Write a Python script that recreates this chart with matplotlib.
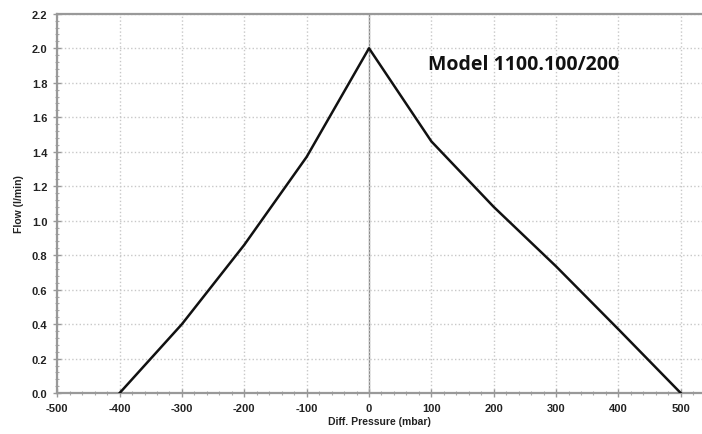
import numpy as np
import matplotlib.pyplot as plt
from matplotlib.ticker import MultipleLocator

plt.rcParams['axes.unicode_minus'] = False

# flow curve
pressure = [-400, -300, -200, -100, 0, 100, 200, 300, 400, 500]
flow = [0.0, 0.40, 0.86, 1.37, 2.0, 1.46, 1.08, 0.735, 0.37, 0.0]

xticks = [-500, -400, -300, -200, -100, 0, 100, 200, 300, 400, 500]
yticks = [0.0, 0.2, 0.4, 0.6, 0.8, 1.0, 1.2, 1.4, 1.6, 1.8, 2.0, 2.2]

fig = plt.figure(figsize=(7.02, 4.35), dpi=100)
ax = fig.add_axes([0.0815, 0.094, 0.9185, 0.872])

ax.set_xlim(-500, 534)
ax.set_ylim(0, 2.2)

ax.grid(True, which='major', color='#c8c8c8', linestyle=':', linewidth=1.0)
ax.axvline(0, color='#8a8a8a', linewidth=1.0, zorder=1)

ax.plot(pressure, flow, color='#111111', linewidth=1.8, zorder=3)

ax.set_xticks(xticks)
ax.set_yticks(yticks)
ax.set_xticklabels([str(v) for v in xticks])
ax.set_yticklabels(['%.1f' % v for v in yticks])
ax.xaxis.set_minor_locator(MultipleLocator(20))
ax.yaxis.set_minor_locator(MultipleLocator(0.04))

tick_font = dict(family='Liberation Sans', weight='bold', size=8)
for lab in ax.get_xticklabels() + ax.get_yticklabels():
    lab.set_fontproperties(tick_font)
    lab.set_color('#222222')

ax.tick_params(which='major', direction='inout', length=6, width=1.0, color='#999999', pad=4)
ax.tick_params(which='minor', direction='inout', length=3, width=0.8, color='#aaaaaa')

for side in ['left', 'bottom', 'top']:
    ax.spines[side].set_color('#999999')
    ax.spines[side].set_linewidth(1.6)
ax.spines['right'].set_visible(False)

label_font = dict(family='Liberation Sans', weight='bold', size=7.5)
ax.set_xlabel('Diff. Pressure (mbar)', fontdict=label_font, labelpad=2, color='#222222')
ax.set_ylabel('Flow (l/min)', fontdict=label_font, labelpad=6, color='#222222')

ax.text(94, 1.91, 'Model 1100.100/200', family='Open Sans', weight='bold',
        fontsize=14, color='#111111', va='center', ha='left')

fig.savefig('out.png', dpi=100)
